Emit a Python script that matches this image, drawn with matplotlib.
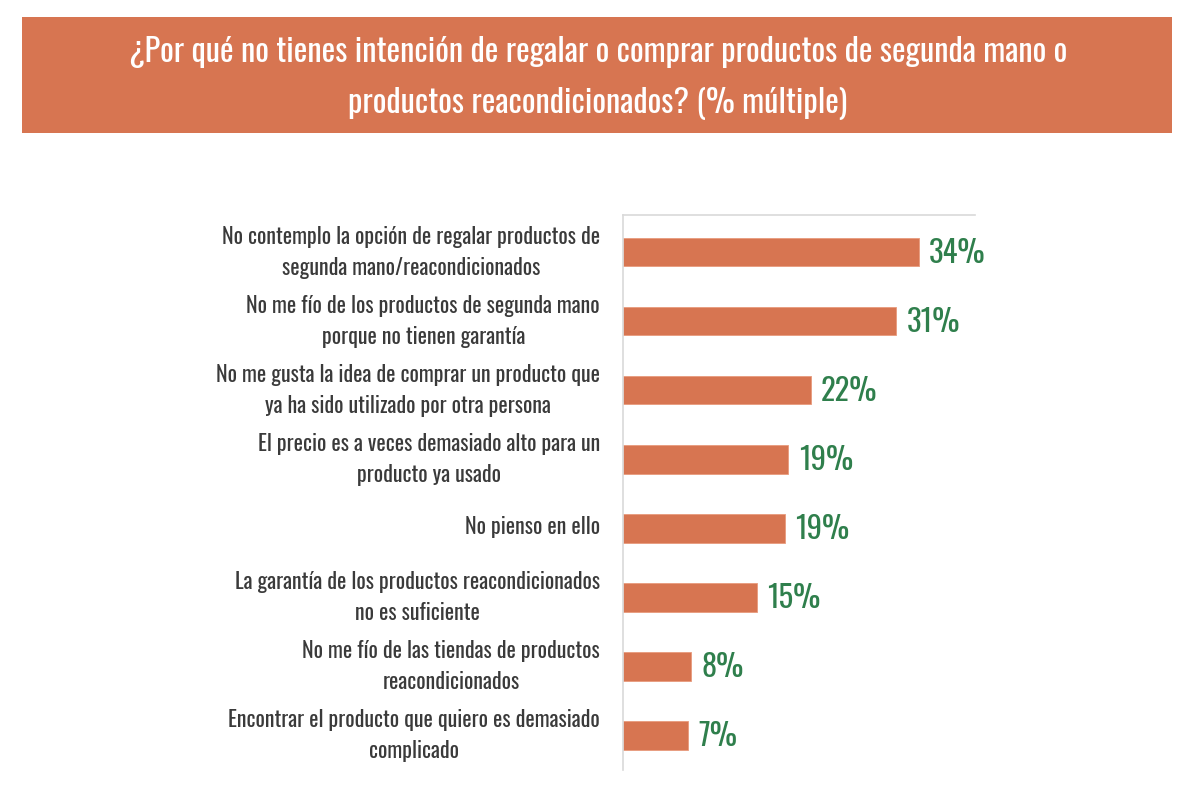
import matplotlib
matplotlib.use("Agg")
import matplotlib.pyplot as plt
from matplotlib.patches import Rectangle
from matplotlib.transforms import ScaledTranslation
from matplotlib import font_manager

names = {f.name for f in font_manager.fontManager.ttflist}
FONT = "DejaVu Sans"
for cand in ["Oswald", "Pathway Gothic One", "Archivo Narrow", "Asap Condensed", "Roboto Condensed"]:
    if cand in names:
        FONT = cand
        break

title = "¿Por qué no tienes intención de regalar o comprar productos de segunda mano o\nproductos reacondicionados? (% múltiple)"
categories = [
    "No contemplo la opción de regalar productos de\nsegunda mano/reacondicionados",
    "No me fío de los productos de segunda mano\nporque no tienen garantía",
    "No me gusta la idea de comprar un producto que\nya ha sido utilizado por otra persona",
    "El precio es a veces demasiado alto para un\nproducto ya usado",
    "No pienso en ello",
    "La garantía de los productos reacondicionados\nno es suficiente",
    "No me fío de las tiendas de productos\nreacondicionados",
    "Encontrar el producto que quiero es demasiado\ncomplicado",
]
values = [34.0, 31.4, 21.6, 19.0, 18.6, 15.4, 7.8, 7.5]
labels = ["34%", "31%", "22%", "19%", "19%", "15%", "8%", "7%"]

BAR = "#D77551"
GREEN = "#2F7F4C"

fig = plt.figure(figsize=(12, 8), dpi=100)
fig.patches.append(Rectangle((22/1200, 1-133/800), 1150/1200, 116/800,
                             transform=fig.transFigure, facecolor="#D77551",
                             edgecolor="none", zorder=0))
fig.text(598/1200, 1-78/800, title, ha="center", va="center", color="white",
         fontsize=23.3, family=FONT, fontweight=300, linespacing=1.7)

ax = fig.add_axes([623/1200, 1-770/800, 352/1200, 555/800])
y = list(range(len(categories)))
ax.barh(y, values, height=0.41, color=BAR, edgecolor="#E89A7C", linewidth=0.6)
ax.set_ylim(len(categories) - 0.5, -0.54)
ax.set_xlim(0, 40.5)
for yi, v, lab in zip(y, values, labels):
    ax.text(v + 1.2, yi + 0.02, lab, va="center", ha="left", color=GREEN,
            fontsize=22, family=FONT, fontweight=300)
ax.set_yticks(y)
ax.set_yticklabels([])
for yi, cat in zip(y, categories):
    dy = 0.0 if "\n" in cat else 0.015
    tr = ax.get_yaxis_transform() + ScaledTranslation(0, dy, fig.dpi_scale_trans)
    ax.text(-23/352, yi, cat, transform=tr, ha="right", va="center",
            multialignment="center", fontsize=15.8, color="#3A3A3A",
            family=FONT, fontweight=300, linespacing=1.5)
ax.tick_params(axis="y", length=0)
ax.set_xticks([])
for s in ["right", "bottom"]:
    ax.spines[s].set_visible(False)
ax.spines["left"].set_color("#D9D9D9")
ax.spines["top"].set_color("#D9D9D9")
ax.spines["left"].set_linewidth(1.2)
ax.spines["top"].set_linewidth(1.2)

fig.savefig("out.png", dpi=100, facecolor="white")
